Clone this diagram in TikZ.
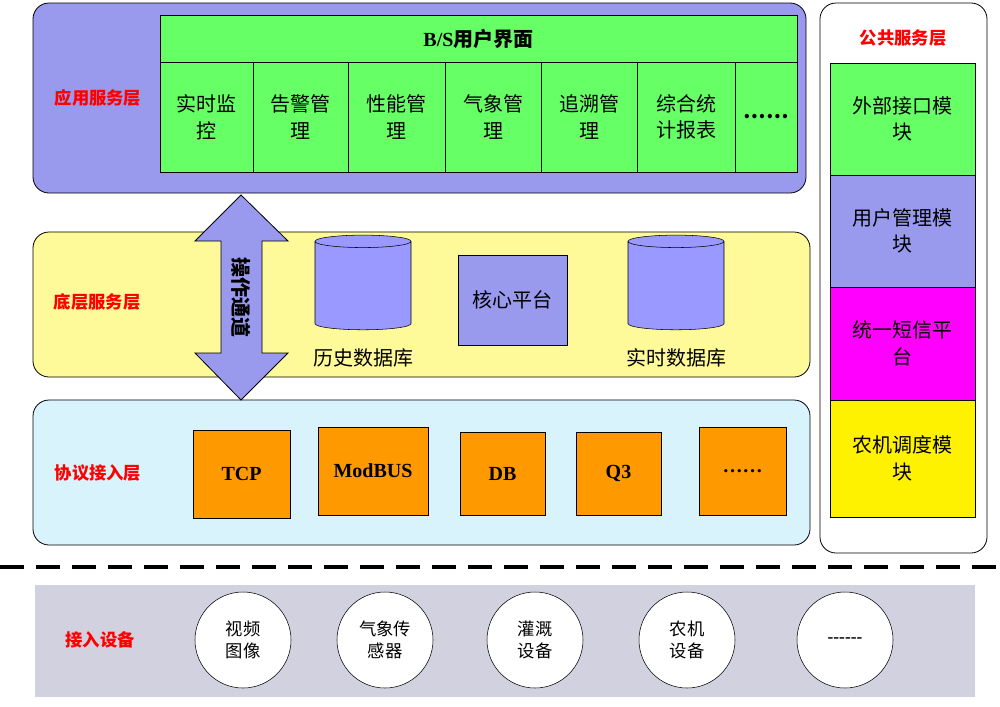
\documentclass[tikz,border=0pt]{standalone}
\usepackage{fontspec}
\setmainfont{Liberation Serif}
\newfontfamily\cjk{Noto Sans CJK SC}
\usetikzlibrary{shapes.geometric,shapes.arrows}
\begin{document}
\begin{tikzpicture}[x=0.75pt,y=-0.75pt,
  layer/.style={draw=black,rounded corners=12pt,line width=0.6pt},
  lbl/.style={text=red,font=\cjk\bfseries\fontsize{13}{15}\selectfont},
  cell/.style={draw=black,fill=green!60!white,line width=0.6pt,align=center,font=\cjk\fontsize{15}{20}\selectfont},
  obox/.style={draw=black,fill=orange!80!yellow,line width=0.6pt,font=\bfseries\fontsize{15}{18}\selectfont},
  pub/.style={draw=black,line width=0.6pt,align=center,font=\cjk\fontsize{15}{20}\selectfont},
  dev/.style={circle,draw=black,fill=white,minimum size=72pt,inner sep=0pt,align=center,font=\cjk\fontsize{13}{17}\selectfont},
  cyl/.style={cylinder,shape border rotate=90,aspect=1.4,draw=black,fill=blue!40!white,minimum width=72pt,minimum height=71pt}]
\useasboundingbox (0,0) rectangle (1000,707);
\definecolor{lav}{RGB}{153,153,238}
% application layer
\draw[layer,fill=lav] (33,3) rectangle (806,193);
\node[lbl] (app) at (98,98) {应用服务层};
\node[cell,minimum width=477.75pt,minimum height=35.25pt,font=\bfseries\fontsize{15}{18}\selectfont] (bs) at (478.5,38.5) {B/S{\cjk 用户界面}};
\foreach \a/\b/\t [count=\i] in {160/253/实时监\\控,253/348/告警管\\理,348/445/性能管\\理,445/541/气象管\\理,541/637/追溯管\\理,637/735/综合统\\计报表,735/797/\textbf{……}}{
  \node[cell,minimum width={(\b-\a)*0.75pt},minimum height=82.5pt] (c\i) at ({(\a+\b)/2},117) {\t};
}
% base layer
\draw[layer,fill=yellow!40!white] (33,232) rectangle (810,377);
\node[lbl] (base) at (97,302) {底层服务层};
\node[cyl] (h) at (363,287) {};
\node[font=\cjk\fontsize{15}{18}\selectfont] (hl) at (363,358) {历史数据库};
\node[cyl] (r) at (676,287) {};
\node[font=\cjk\fontsize{15}{18}\selectfont] (rl) at (676,358) {实时数据库};
\node[draw=black,fill=lav,minimum width=81.75pt,minimum height=67.5pt,font=\cjk\fontsize{15}{18}\selectfont] (core) at (512.5,300) {核心平台};
% protocol layer
\draw[layer,fill=cyan!15!white] (33,400) rectangle (810,545);
\node[lbl] (proto) at (98,473) {协议接入层};
\node[obox,minimum width=72.75pt,minimum height=66pt] (tcp) at (241.5,474) {TCP};
\node[obox,minimum width=82.5pt,minimum height=66pt] (mod) at (373,471) {ModBUS};
\node[obox,minimum width=63.75pt,minimum height=62.25pt] (db) at (502.5,473.5) {DB};
\node[obox,minimum width=63.75pt,minimum height=62.25pt] (q3) at (618.5,473.5) {Q3};
\node[obox,minimum width=65.25pt,minimum height=66pt] (dots) at (742.5,471) {……};
% double arrow
\draw[fill=lav,line width=0.6pt] (241,195) -- (288,241) -- (262,241) -- (262,353) -- (288,353) -- (241,400) -- (195,353) -- (221,353) -- (221,241) -- (195,241) -- cycle;
\node[rotate=-90,font=\cjk\bfseries\fontsize{15}{18}\selectfont] (art) at (241,297) {操作通道};
% public layer
\draw[layer,fill=white] (820,3) rectangle (987,553);
\node[lbl] (publ) at (903,38) {公共服务层};
\node[pub,fill=green!60!white,minimum width=108.75pt,minimum height=84pt] (p1) at (902.5,119) {外部接口模\\块};
\node[pub,fill=lav,minimum width=108.75pt,minimum height=84pt] (p2) at (902.5,231) {用户管理模\\块};
\node[pub,fill={rgb,255:red,255;green,0;blue,255},minimum width=108.75pt,minimum height=84.75pt] (p3) at (902.5,343.5) {统一短信平\\台};
\node[pub,fill=yellow,minimum width=108.75pt,minimum height=87.75pt] (p4) at (902.5,458.5) {农机调度模\\块};
% dashed line
\coordinate (dl) at (0,567);
\coordinate (dr) at (1000,567);
\draw[line width=3pt,dash pattern=on 18pt off 9pt] (dl) -- (dr);
% devices
\fill[blue!20!gray!30!white] (35,585) rectangle (975,697);
\node[lbl] (devl) at (100,640) {接入设备};
\node[dev] (d1) at (243,640) {视频\\图像};
\node[dev] (d2) at (385,640) {气象传\\感器};
\node[dev] (d3) at (535,640) {灌溉\\设备};
\node[dev] (d4) at (687,640) {农机\\设备};
\node[dev,font=\bfseries\fontsize{13}{17}\selectfont] (d5) at (845,640) {-{}-{}-{}-{}-{}-};
\end{tikzpicture}
\end{document}
